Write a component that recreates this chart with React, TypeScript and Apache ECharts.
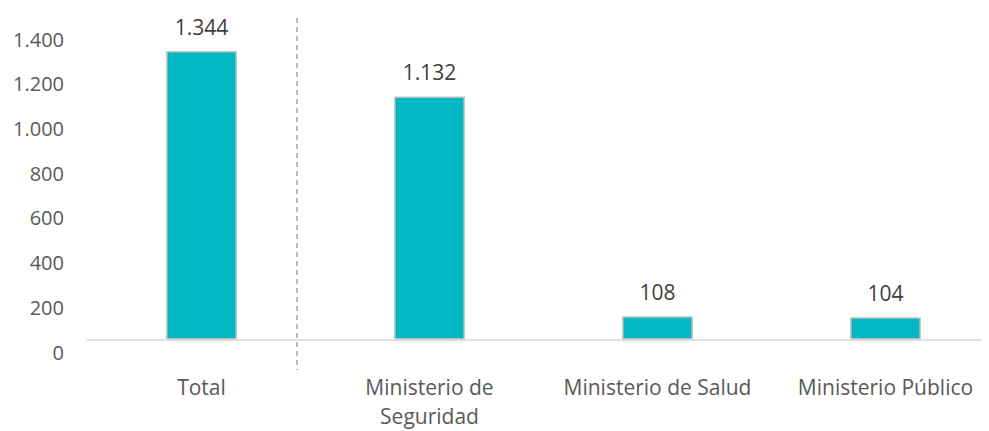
import React, { useEffect, useRef } from "react";
import * as echarts from "echarts";

const categories = ["Total", "Ministerio de\nSeguridad", "Ministerio de Salud", "Ministerio Público"];
const values = [1344, 1132, 108, 104];
const yMin = 0;
const yMax = 1400;
const yInterval = 200;

const fmt = (v: number) => String(Math.round(v)).replace(/\B(?=(\d{3})+(?!\d))/g, ".");

const FONT = "'Open Sans', 'Noto Sans', sans-serif";

export default function App() {
  const ref = useRef<HTMLDivElement>(null);
  useEffect(() => {
    if (!ref.current) return;
    const chart = echarts.init(ref.current, null, { renderer: "svg" });
    chart.setOption({
      animation: false,
      backgroundColor: "#ffffff",
      grid: [
        { left: 87.5, width: 912, top: 39, height: 300.5, containLabel: false, outerBoundsMode: "none" },
        { left: 87.5, width: 912, top: 39, height: 313, containLabel: false, outerBoundsMode: "none" },
      ],
      xAxis: [
        {
          type: "category",
          gridIndex: 0,
          data: categories,
          axisTick: { show: false },
          axisLine: { lineStyle: { color: "#D9D9D9", width: 1.5 } },
          axisLabel: {
            color: "#595959",
            fontFamily: FONT,
            fontSize: 21,
            lineHeight: 29,
            margin: 33,
            verticalAlign: "top",
            interval: 0,
          },
        },
        { type: "category", gridIndex: 1, data: categories, show: false },
      ],
      yAxis: [
        {
          type: "value",
          gridIndex: 0,
          min: yMin,
          max: yMax,
          interval: yInterval,
          axisLine: { show: false },
          axisTick: { show: false },
          axisLabel: { show: false },
          splitLine: { show: false },
        },
        {
          type: "value",
          gridIndex: 1,
          min: yMin,
          max: yMax,
          interval: yInterval,
          axisLine: { show: false },
          axisTick: { show: false },
          splitLine: { show: false },
          axisLabel: {
            color: "#595959",
            fontFamily: FONT,
            fontSize: 20,
            margin: 23.5,
            formatter: (v: number) => fmt(v),
          },
        },
      ],
      series: [
        {
          type: "bar",
          xAxisIndex: 0,
          yAxisIndex: 0,
          data: values,
          barWidth: "31%",
          itemStyle: { color: "#00B9C3", borderColor: "#BFBFBF", borderWidth: 1.5 },
          label: {
            show: true,
            position: "top",
            distance: 14,
            color: "#404040",
            fontFamily: FONT,
            fontSize: 21,
            formatter: (p: any) => fmt(p.value),
          },
        },
      ],
      graphic: [
        {
          type: "line",
          shape: { x1: 297, y1: 18, x2: 297, y2: 370 },
          style: { stroke: "#A6A6A6", lineWidth: 1.5, lineDash: [5, 4] },
          silent: true,
        },
      ],
    });
    return () => chart.dispose();
  }, []);
  return <div ref={ref} style={{ width: 989, height: 431, marginTop: -8, marginLeft: -8 }} />;
}
